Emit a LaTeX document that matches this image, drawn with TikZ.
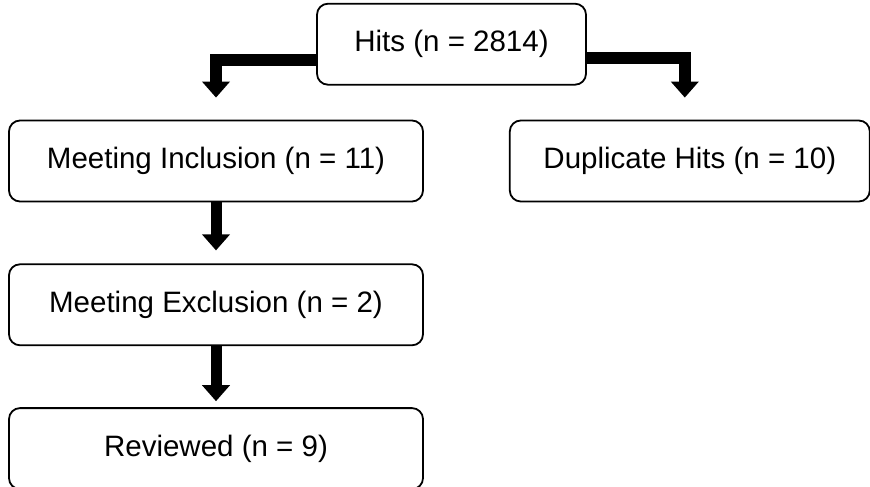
\documentclass[tikz,border=0pt]{standalone}
\usepackage{fontspec}
\setmainfont{Liberation Sans}
\usetikzlibrary{arrows.meta, positioning}

\begin{document}
\begin{tikzpicture}[
  box/.style={rectangle, draw=black, rounded corners=5.5pt, line width=0.9pt,
             minimum height=40.5pt, align=center, inner sep=4pt,
             font=\fontsize{14.75}{17}\selectfont},
  leftbox/.style={box, minimum width=207pt},
  flowarrow/.style={-{Triangle[width=13.5pt,length=8pt]}, line width=5.5pt,
             line join=miter}
]
\useasboundingbox (-108pt,80.5pt) rectangle (327pt,-162.5pt);
% left column
\node[leftbox] (incl) at (0,0) {Meeting Inclusion (n = 11)};
\node[leftbox, below=30.5pt of incl] (excl) {Meeting Exclusion (n = 2)};
\node[leftbox, below=30.5pt of excl] (rev) {Reviewed (n = 9)};
% right side and top
\node[box, minimum width=180pt, right=42.5pt of incl] (dup) {Duplicate Hits (n = 10)};
\node[box, minimum width=134.5pt, above=17pt of incl, xshift=117.75pt] (hits) {Hits (n = 2814)};
% arrows
\draw[flowarrow, line width=6pt] ([yshift=-7.75pt]hits.west) -| ([yshift=11pt]incl.north);
\draw[flowarrow, line width=6pt] ([yshift=-7pt]hits.east) -| ([xshift=-2.5pt,yshift=11pt]dup.north);
\draw[flowarrow, shorten >=6.5pt] (incl) -- (excl);
\draw[flowarrow, shorten >=3pt] (excl) -- (rev);
\end{tikzpicture}
\end{document}
